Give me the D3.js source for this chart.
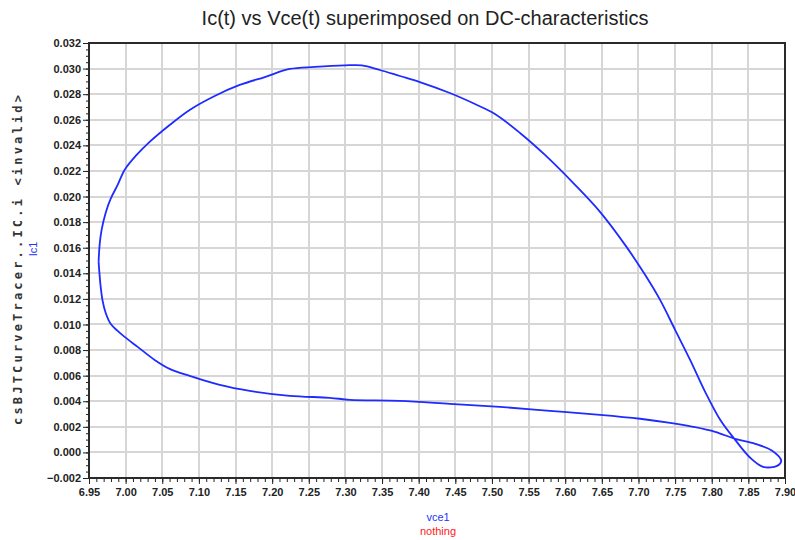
<!DOCTYPE html>
<html>
<head>
<meta charset="utf-8">
<script src="https://cdn.jsdelivr.net/npm/d3@7"></script>
<style>
  html, body { margin: 0; padding: 0; background: #fff; }
  svg { display: block; }
</style>
</head>
<body>
<svg id="chart" width="795" height="540"></svg>
<script>
// ---- data ----
const titleText = "Ic(t) vs Vce(t) superimposed on DC-characteristics";
const yAxisTitle = "csBJTCurveTracer..IC.i <invalid>";
const yAxisSeries = "Ic1";
const xAxisSeries = "vce1";
const xAxisExtra = "nothing";

const xTickValues = [6.95, 7.00, 7.05, 7.10, 7.15, 7.20, 7.25, 7.30, 7.35, 7.40, 7.45,
                     7.50, 7.55, 7.60, 7.65, 7.70, 7.75, 7.80, 7.85, 7.90];
const yTickValues = [-0.002, 0.000, 0.002, 0.004, 0.006, 0.008, 0.010, 0.012, 0.014,
                     0.016, 0.018, 0.020, 0.022, 0.024, 0.026, 0.028, 0.030, 0.032];

// Vce(t) [V] and Ic(t) [A] along the loop
const vce = [6.9631, 6.9645, 6.9672, 6.9727, 6.9795, 6.9891, 6.9986, 7.0150, 7.0328, 7.0601,
             7.0874, 7.1216, 7.1557, 7.1899, 7.2240, 7.2582, 7.2992, 7.3224, 7.3470, 7.3743,
             7.4016, 7.4426, 7.4768, 7.5041, 7.5383, 7.5724, 7.6134, 7.6475, 7.6817, 7.7090,
             7.7295, 7.7500, 7.7705, 7.7910, 7.8115, 7.8320, 7.8525, 7.8702, 7.8893, 7.8948,
             7.8825, 7.8593, 7.8320, 7.8046, 7.7746, 7.7432, 7.7022, 7.6475, 7.5792, 7.5109,
             7.4426, 7.3743, 7.3060, 7.2787, 7.2240, 7.1694, 7.1284, 7.0874, 7.0601, 7.0396,
             7.0164, 6.9986, 6.9891, 6.9795, 6.9727, 6.9686, 6.9658, 6.9631];
const ic  = [0.01489, 0.01622, 0.01739, 0.01872, 0.01981, 0.02091, 0.02208, 0.02325, 0.02427, 0.02559,
             0.02677, 0.02786, 0.02872, 0.02934, 0.02997, 0.03013, 0.03025, 0.03025, 0.02989, 0.02942,
             0.02895, 0.02809, 0.02723, 0.02645, 0.02497, 0.02325, 0.02091, 0.01880, 0.01622, 0.01388,
             0.01192, 0.00958, 0.00723, 0.00473, 0.00255, 0.00098, -0.00042, -0.00113, -0.00105, -0.00066,
             0.00013, 0.00067, 0.00106, 0.00161, 0.00200, 0.00231, 0.00263, 0.00294, 0.00325, 0.00356,
             0.00380, 0.00403, 0.00411, 0.00427, 0.00442, 0.00481, 0.00528, 0.00598, 0.00653, 0.00723,
             0.00825, 0.00903, 0.00950, 0.01005, 0.01091, 0.01184, 0.01302, 0.01489];

// ---- layout ----
const svg = d3.select("#chart");
const pL = 89, pR = 785, pT = 43, pB = 478;

const x = d3.scaleLinear().domain([6.95, 7.90]).range([pL, pR]);
const y = d3.scaleLinear().domain([-0.002, 0.032]).range([pB, pT]);

// gridlines
const grid = svg.append("g").attr("stroke", "#d6d6d6").attr("stroke-width", 2);
grid.selectAll("line.vx").data(xTickValues.slice(1, -1)).join("line")
  .attr("x1", d => Math.round(x(d))).attr("x2", d => Math.round(x(d)))
  .attr("y1", pT).attr("y2", pB);
grid.selectAll("line.hy").data(yTickValues.slice(1, -1)).join("line")
  .attr("y1", d => Math.round(y(d))).attr("y2", d => Math.round(y(d)))
  .attr("x1", pL).attr("x2", pR);

// axes
const fmtX = d3.format(".2f");
const fmtY = d3.format(".3f");
const xMinor = d3.range(0, 96).map(k => 6.95 + k * 0.01);
const yMinor = d3.range(0, 69).map(k => -0.002 + k * 0.0005);

const xAxisMinor = d3.axisBottom(x).tickValues(xMinor).tickSize(4).tickFormat("");
const xAxis = d3.axisBottom(x).tickValues(xTickValues).tickSize(6).tickPadding(4).tickFormat(fmtX);
const yAxisMinor = d3.axisLeft(y).tickValues(yMinor).tickSize(3).tickFormat("");
const yAxis = d3.axisLeft(y).tickValues(yTickValues).tickSize(6).tickPadding(2).tickFormat(fmtY);

function styleAxis(g) {
  g.select(".domain").remove();
  g.selectAll(".tick line").attr("stroke", "#222").attr("stroke-width", 1);
  g.selectAll(".tick text").attr("fill", "#222")
    .style("font-family", "'Liberation Sans', Arial, sans-serif")
    .style("font-size", "11px").style("font-weight", "bold");
}
svg.append("g").attr("transform", `translate(0,${pB})`).call(xAxisMinor).call(styleAxis);
svg.append("g").attr("transform", `translate(0,${pB})`).call(xAxis).call(styleAxis);
svg.append("g").attr("transform", `translate(${pL},0)`).call(yAxisMinor).call(styleAxis);
svg.append("g").attr("transform", `translate(${pL},0)`).call(yAxis).call(styleAxis);

// frame
svg.append("rect").attr("x", pL).attr("y", pT)
  .attr("width", pR - pL).attr("height", pB - pT)
  .attr("fill", "none").attr("stroke", "#2a2a2a").attr("stroke-width", 2);

// curve
const pts = vce.map((v, i) => [v, ic[i]]);
const line = d3.line().x(d => x(d[0])).y(d => y(d[1])).curve(d3.curveCatmullRom.alpha(0.5));
svg.append("path").datum(pts).attr("d", line)
  .attr("fill", "none").attr("stroke", "#1f2bff").attr("stroke-width", 1.8)
  .attr("stroke-linejoin", "round");

// title
svg.append("text").attr("x", 425).attr("y", 25).attr("text-anchor", "middle")
  .style("font-family", "'Liberation Sans', Arial, sans-serif").style("font-size", "20px")
  .attr("fill", "#222").text(titleText);

// y axis titles
svg.append("text").attr("transform", "translate(22,260) rotate(-90)")
  .attr("text-anchor", "middle")
  .style("font-family", "'DejaVu Sans Mono', monospace").style("font-size", "12px")
  .style("font-weight", "bold")
  .attr("fill", "#333").attr("textLength", 330).attr("lengthAdjust", "spacing")
  .text(yAxisTitle);
svg.append("text").attr("transform", "translate(37,249) rotate(-90)")
  .attr("text-anchor", "middle")
  .style("font-family", "'Liberation Sans', Arial, sans-serif").style("font-size", "11px")
  .attr("fill", "#2233ff").text(yAxisSeries);

// x axis titles
svg.append("text").attr("x", 438).attr("y", 521).attr("text-anchor", "middle")
  .style("font-family", "'Liberation Sans', Arial, sans-serif").style("font-size", "11px")
  .attr("fill", "#2233ff").text(xAxisSeries);
svg.append("text").attr("x", 438).attr("y", 535).attr("text-anchor", "middle")
  .style("font-family", "'Liberation Sans', Arial, sans-serif").style("font-size", "11px")
  .attr("fill", "#ff2020").text(xAxisExtra);
</script>
</body>
</html>
